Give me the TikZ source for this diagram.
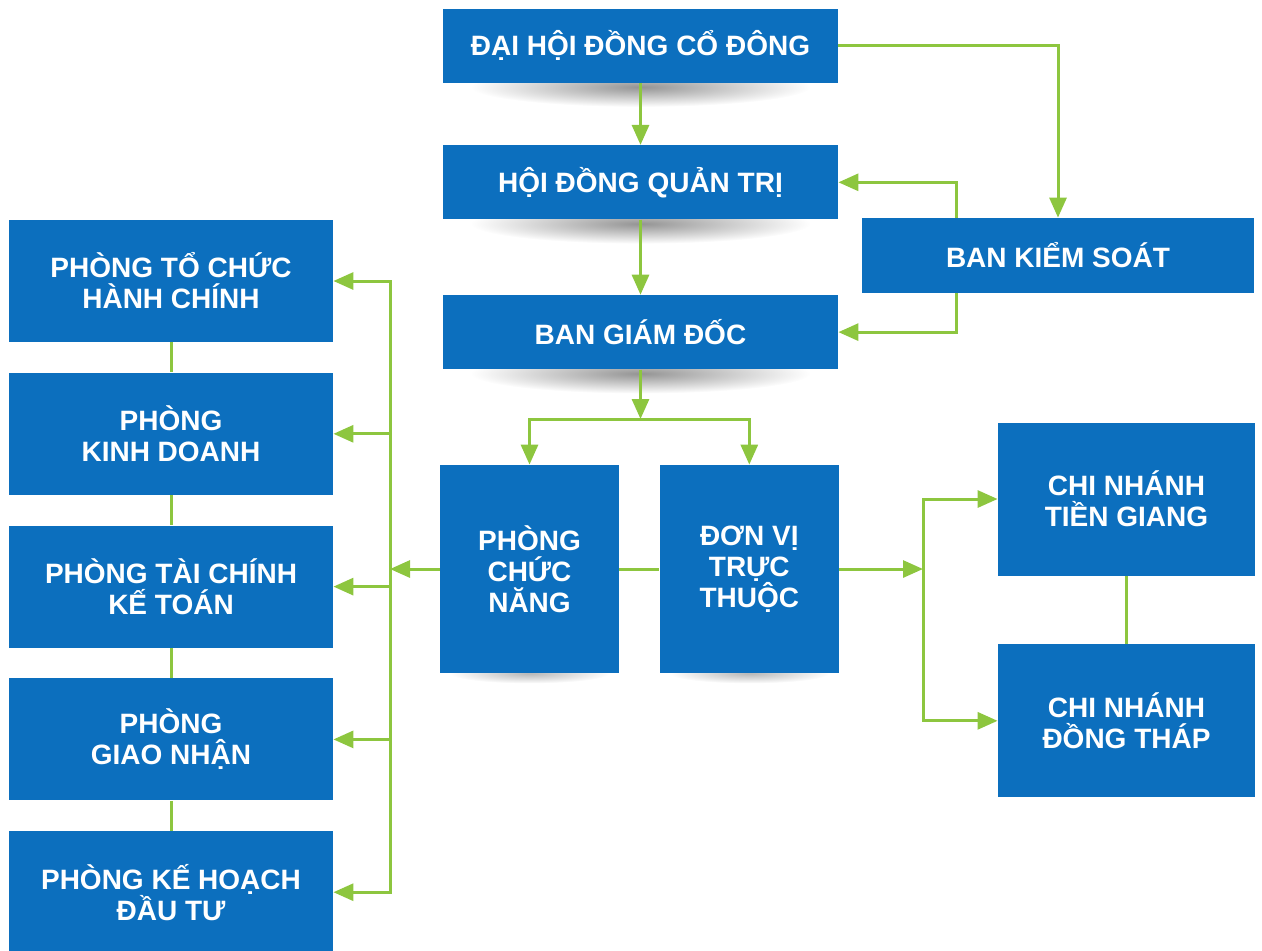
\documentclass[tikz,border=0pt]{standalone}
\usepackage{fontspec}
\setmainfont{Liberation Sans}
\usepackage{xcolor}
\usetikzlibrary{arrows.meta, positioning, backgrounds}

\definecolor{boxblue}{HTML}{0C6FBE}
\definecolor{linkgreen}{HTML}{8DC63F}

\begin{document}
\begin{tikzpicture}[
    x=0.5pt, y=0.5pt,
    node distance=15pt,
    every node/.style={font=\bfseries\fontsize{14}{15.5}\selectfont, text=white, align=center},
    unit/.style={rectangle, fill=boxblue, inner sep=0pt},
    board/.style={unit, minimum width=197.5pt, minimum height=37pt},
    control/.style={unit, minimum width=196pt, minimum height=37.5pt},
    block/.style={unit, minimum width=89.5pt, minimum height=104pt},
    dept/.style={unit, minimum width=162pt, minimum height=61pt},
    branch/.style={unit, minimum width=128.5pt, minimum height=76.5pt},
    arrow/.style={-{Triangle[length=10pt, width=8.5pt]}, line width=1.5pt, draw=linkgreen},
    link/.style={line width=1.5pt, draw=linkgreen},
    shadow/.style={inner color=black!42, outer color=white}
]
\clip (0,0) rectangle (1262,-950);

% Nodes
\node (dhcd) [board] at (640.5,-45.5) {ĐẠI HỘI ĐỒNG CỔ ĐÔNG};
\node (hdqt) [board, below=31pt of dhcd] {HỘI ĐỒNG QUẢN TRỊ};
\node (bgd) [board, below=37.5pt of hdqt] {BAN GIÁM ĐỐC};
\node (bks) [control] at (1058,-255.5) {BAN KIỂM SOÁT};
\node (pcn) [block] at (529.5,-569) {PHÒNG\\CHỨC\\NĂNG};
\node (dvtt) [block, right=20pt of pcn] {ĐƠN VỊ\\TRỰC\\THUỘC};
\node (cntg) [branch] at (1126.5,-499) {CHI NHÁNH\\TIỀN GIANG};
\node (cndt) [branch, below=34pt of cntg] {CHI NHÁNH\\ĐỒNG THÁP};
\node (ptc) [dept] at (171,-281) {PHÒNG TỔ CHỨC\\HÀNH CHÍNH};
\node (pkd) [dept, below=of ptc] {PHÒNG\\KINH DOANH};
\node (ptckt) [dept, below=of pkd] {PHÒNG TÀI CHÍNH\\KẾ TOÁN};
\node (pgn) [dept, below=of ptckt] {PHÒNG\\GIAO NHẬN};
\node (pkh) [dept, below=of pgn] {PHÒNG KẾ HOẠCH\\ĐẦU TƯ};

\coordinate (split) at (640.5,-419);
\coordinate (lbus) at (390,0);
\coordinate (rbus) at (923,0);

% Shadows
\begin{scope}[on background layer]
\shade[shadow] ([yshift=-2pt]dhcd.south) ellipse [x radius=85pt, y radius=10pt];
\shade[shadow] ([yshift=-2pt]hdqt.south) ellipse [x radius=85pt, y radius=10pt];
\shade[shadow] ([yshift=-2pt]bgd.south) ellipse [x radius=85pt, y radius=10pt];
\shade[shadow, inner color=black!28] (pcn.south) ellipse [x radius=40pt, y radius=5pt];
\shade[shadow, inner color=black!28] (dvtt.south) ellipse [x radius=40pt, y radius=5pt];
\end{scope}

% Arrows
\draw [arrow] (dhcd) -- (hdqt);
\draw [arrow] (hdqt) -- (bgd);
\draw [arrow] (dhcd.east) -| (bks.north);
\draw [arrow] ([xshift=-51pt]bks.north) |- (hdqt.east);
\draw [arrow] ([xshift=-51pt]bks.south) |- (bgd.east);
\draw [arrow] (bgd.south) -- (split);
\draw [arrow] (split) -| (pcn.north);
\draw [arrow] (split) -| (dvtt.north);
\draw [link] (pcn.east) -- (dvtt.west);
\draw [arrow] (pcn.west) -- (pcn.west -| lbus);
\draw [arrow] (pcn.west -| lbus) |- (ptc.east);
\draw [arrow] (pcn.west -| lbus) |- (pkd.east);
\draw [arrow] (pcn.west -| lbus) |- (ptckt.east);
\draw [arrow] (pcn.west -| lbus) |- (pgn.east);
\draw [arrow] (pcn.west -| lbus) |- (pkh.east);
\draw [link] (ptc.south) -- (pkd.north);
\draw [link] (pkd.south) -- (ptckt.north);
\draw [link] (ptckt.south) -- (pgn.north);
\draw [link] (pgn.south) -- (pkh.north);
\draw [arrow] (dvtt.east) -- (dvtt.east -| rbus);
\draw [arrow] (dvtt.east -| rbus) |- (cntg.west);
\draw [arrow] (dvtt.east -| rbus) |- (cndt.west);
\draw [link] (cntg.south) -- (cndt.north);

\end{tikzpicture}
\end{document}
